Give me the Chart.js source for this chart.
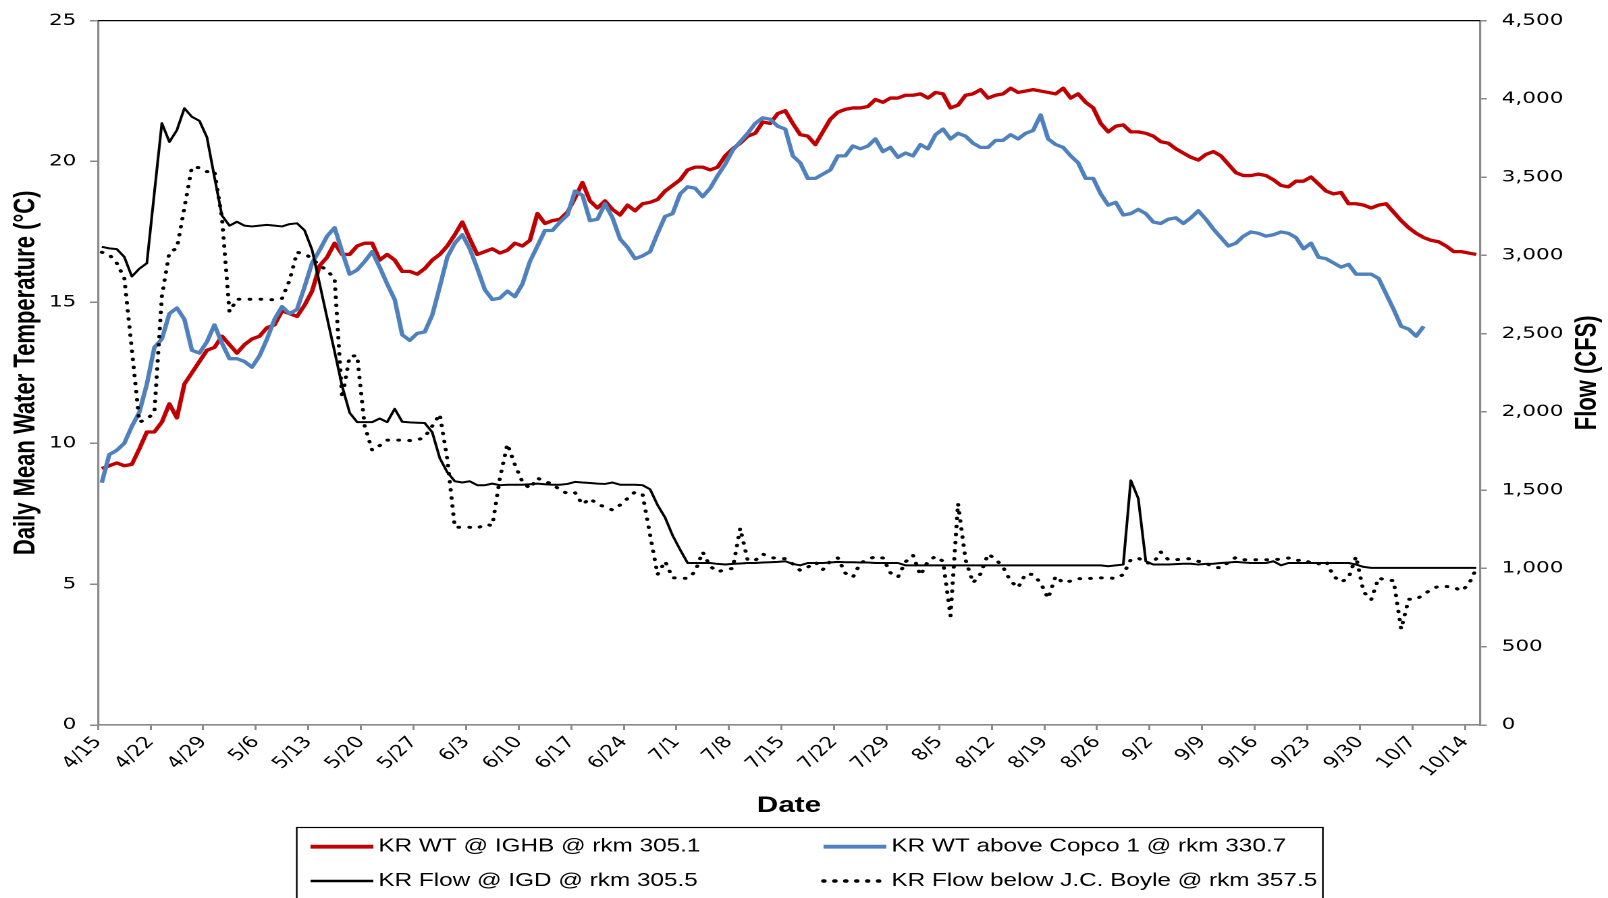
<!DOCTYPE html>
<html>
<head>
<meta charset="utf-8">
<title>Klamath River water temperature and flow</title>
<script src="https://cdn.jsdelivr.net/npm/chart.js@4.4.1/dist/chart.umd.min.js"></script>
<style>
  html, body { margin: 0; padding: 0; background: #fff; overflow: hidden; }
  /* the figure is laid out on a narrower canvas and widened horizontally */
  #stage { width: 1191px; height: 898px; transform: scaleX(1.35013); transform-origin: 0 0; }
</style>
</head>
<body>
<div id="stage"><canvas id="chart"></canvas></div>
<script>
// Weekly tick labels (one every 7 days, starting 4/15)
const tickLabels = ['4/15','4/22','4/29','5/6','5/13','5/20','5/27','6/3','6/10','6/17','6/24',
  '7/1','7/8','7/15','7/22','7/29','8/5','8/12','8/19','8/26','9/2','9/9','9/16','9/23',
  '9/30','10/7','10/14'];

// Daily mean water temperature (°C), KR WT @ IGHB @ rkm 305.1, 4/15 - 10/15
const tempIGHB = [
  9.1, 9.2, 9.3, 9.2, 9.25, 9.8, 10.4, 10.4, 10.75, 11.4,
  10.9, 12.1, 12.5, 12.9, 13.3, 13.4, 13.8, 13.5, 13.2, 13.5,
  13.7, 13.8, 14.1, 14.2, 14.7, 14.6, 14.5, 14.9, 15.4, 16.3,
  16.6, 17.1, 16.7, 16.7, 17.0, 17.1, 17.1, 16.5, 16.7, 16.5,
  16.1, 16.1, 16.0, 16.2, 16.5, 16.7, 17.0, 17.4, 17.85, 17.25,
  16.7, 16.8, 16.9, 16.75, 16.85, 17.1, 17.0, 17.2, 18.15, 17.8,
  17.9, 17.95, 18.2, 18.7, 19.25, 18.6, 18.35, 18.6, 18.3, 18.1,
  18.45, 18.25, 18.5, 18.55, 18.65, 18.95, 19.15, 19.35, 19.7, 19.8,
  19.8, 19.7, 19.8, 20.2, 20.45, 20.65, 20.9, 21.0, 21.4, 21.35,
  21.7, 21.8, 21.35, 20.95, 20.9, 20.6, 21.05, 21.5, 21.75, 21.85,
  21.9, 21.9, 21.95, 22.2, 22.1, 22.25, 22.25, 22.35, 22.35, 22.4,
  22.25, 22.45, 22.4, 21.9, 22.0, 22.35, 22.4, 22.55, 22.25, 22.35,
  22.4, 22.6, 22.45, 22.5, 22.55, 22.5, 22.45, 22.4, 22.6, 22.25,
  22.4, 22.1, 21.9, 21.35, 21.05, 21.25, 21.3, 21.05, 21.05, 21.0,
  20.9, 20.7, 20.65, 20.45, 20.3, 20.15, 20.05, 20.25, 20.35, 20.2,
  19.9, 19.6, 19.5, 19.5, 19.55, 19.5, 19.35, 19.15, 19.1, 19.3,
  19.3, 19.45, 19.2, 18.95, 18.85, 18.9, 18.5, 18.5, 18.45, 18.35,
  18.45, 18.5, 18.2, 17.9, 17.65, 17.45, 17.3, 17.2, 17.15, 17.0,
  16.8, 16.8, 16.75, 16.7
];

// Daily mean water temperature (°C), KR WT above Copco 1 @ rkm 330.7, 4/15 - 10/8
const tempCopco = [
  8.6, 9.6, 9.75, 10.0, 10.6, 11.1, 12.1, 13.4, 13.7, 14.6,
  14.8, 14.4, 13.3, 13.2, 13.6, 14.2, 13.55, 13.0, 13.0, 12.9,
  12.7, 13.1, 13.7, 14.4, 14.85, 14.6, 14.75, 15.55, 16.4, 16.85,
  17.35, 17.65, 16.8, 16.0, 16.15, 16.45, 16.8, 16.25, 15.65, 15.1,
  13.85, 13.65, 13.9, 13.95, 14.55, 15.55, 16.6, 17.1, 17.4, 16.9,
  16.2, 15.45, 15.1, 15.15, 15.4, 15.2, 15.65, 16.45, 17.0, 17.55,
  17.55, 17.85, 18.1, 18.95, 18.8, 17.9, 17.95, 18.5, 18.0, 17.25,
  16.95, 16.55, 16.65, 16.8, 17.45, 18.05, 18.15, 18.85, 19.1, 19.05,
  18.75, 19.05, 19.5, 19.9, 20.4, 20.7, 21.0, 21.35, 21.55, 21.5,
  21.25, 21.15, 20.2, 19.95, 19.4, 19.4, 19.55, 19.7, 20.2, 20.2,
  20.55, 20.45, 20.55, 20.8, 20.35, 20.5, 20.15, 20.3, 20.2, 20.6,
  20.45, 20.95, 21.15, 20.8, 21.0, 20.9, 20.65, 20.5, 20.5, 20.75,
  20.75, 20.95, 20.8, 21.0, 21.1, 21.65, 20.8, 20.6, 20.5, 20.2,
  19.95, 19.4, 19.4, 18.85, 18.45, 18.55, 18.1, 18.15, 18.3, 18.15,
  17.85, 17.8, 17.95, 18.0, 17.8, 18.0, 18.25, 17.95, 17.6, 17.3,
  17.0, 17.1, 17.35, 17.5, 17.45, 17.35, 17.4, 17.5, 17.45, 17.3,
  16.9, 17.1, 16.6, 16.55, 16.4, 16.25, 16.35, 16.0, 16.0, 16.0,
  15.85, 15.3, 14.75, 14.15, 14.05, 13.8, 14.15
];

// Daily flow (CFS), KR Flow @ IGD @ rkm 305.5, 4/15 - 10/15
const flowIGD = [
  3055, 3045, 3040, 2990, 2865, 2915, 2950, 3400, 3845, 3725,
  3800, 3940, 3885, 3860, 3755, 3500, 3255, 3190, 3215, 3190,
  3185, 3190, 3195, 3190, 3185, 3200, 3205, 3160, 3035, 2820,
  2600, 2385, 2165, 1995, 1935, 1935, 1935, 1958, 1935, 2020,
  1937, 1933, 1931, 1929, 1870, 1705, 1615, 1557, 1549, 1557,
  1532, 1532, 1542, 1532, 1535, 1535, 1535, 1538, 1542, 1538,
  1535, 1535, 1540, 1553, 1549, 1546, 1542, 1540, 1549, 1535,
  1535, 1535, 1532, 1506, 1405, 1325, 1211, 1120, 1035, 1035,
  1035, 1035, 1029, 1025, 1029, 1032, 1035, 1035, 1038, 1040,
  1042, 1046, 1029, 1020, 1035, 1035, 1035, 1038, 1042, 1040,
  1040, 1038, 1038, 1035, 1035, 1035, 1035, 1020, 1020, 1020,
  1020, 1020, 1020, 1020, 1020, 1020, 1020, 1020, 1020, 1020,
  1020, 1020, 1020, 1020, 1020, 1020, 1020, 1020, 1020, 1020,
  1020, 1020, 1020, 1020, 1014, 1020, 1025, 1563, 1447, 1046,
  1025, 1025, 1025, 1028, 1030, 1030, 1025, 1029, 1030, 1035,
  1038, 1042, 1038, 1035, 1035, 1035, 1046, 1020, 1035, 1035,
  1035, 1035, 1035, 1035, 1035, 1035, 1035, 1025, 1010, 1004,
  1004, 1004, 1004, 1004, 1004, 1004, 1004, 1004, 1004, 1004,
  1004, 1004, 1004, 1004
];

// Daily flow (CFS), KR Flow below J.C. Boyle @ rkm 357.5, 4/15 - 10/15
const flowBoyle = [
  3020, 3005, 2950, 2855, 2400, 1935, 1955, 1995, 2740, 3020,
  3045, 3305, 3565, 3560, 3535, 3540, 3240, 2640, 2720, 2720,
  2720, 2720, 2720, 2715, 2725, 2840, 3020, 3010, 2980, 2935,
  2905, 2850, 2090, 2355, 2360, 1910, 1755, 1785, 1820, 1820,
  1820, 1817, 1820, 1840, 1910, 1985, 1700, 1263, 1263, 1263,
  1257, 1282, 1274, 1575, 1795, 1663, 1553, 1511, 1578, 1553,
  1542, 1500, 1479, 1485, 1409, 1447, 1409, 1394, 1373, 1405,
  1447, 1489, 1473, 1215, 961, 1046, 940, 940, 936, 980,
  1105, 1014, 978, 993, 1000, 1257, 1052, 1052, 1092, 1071,
  1063, 1063, 1029, 987, 1008, 1040, 993, 1046, 1067, 970,
  944, 1035, 1056, 1077, 1067, 972, 944, 1042, 1084, 957,
  1046, 1077, 1046, 697, 1415, 1056, 908, 966, 1092, 1060,
  1008, 919, 877, 966, 961, 908, 809, 951, 908, 920,
  936, 930, 940, 940, 940, 936, 961, 1056, 1067, 1035,
  1035, 1105, 1056, 1056, 1060, 1063, 1046, 1035, 1008, 1004,
  1040, 1071, 1056, 1056, 1056, 1056, 1056, 1060, 1067, 1050,
  1056, 1035, 1029, 1046, 951, 913, 940, 1077, 850, 800,
  940, 923, 923, 613, 803, 803, 834, 866, 887, 885,
  881, 856, 898, 999
];

// each day sits in the middle of its one-day slot on the date axis
const toPoints = arr => arr.map((v, i) => ({ x: i + 0.5, y: v }));

const AXIS_GREY = '#8a8a8a';
const SANS = "'Liberation Sans', Arial, sans-serif";
const TICK_FONT = { family: "'DejaVu Sans', sans-serif", size: 16 };

// thin black frame line along the top of the plot area
const topFrame = {
  id: 'topFrame',
  afterDraw(chart) {
    const { ctx, chartArea: a } = chart;
    ctx.save();
    ctx.strokeStyle = '#000';
    ctx.lineWidth = 1.2;
    ctx.beginPath();
    ctx.moveTo(a.left, a.top);
    ctx.lineTo(a.right, a.top);
    ctx.stroke();
    ctx.restore();
  }
};

// secondary-axis title, read bottom-to-top like the primary one
const rightTitle = {
  id: 'rightTitle',
  afterDraw(chart, args, opts) {
    const { ctx, chartArea: a } = chart;
    ctx.save();
    ctx.translate(opts.x, (a.top + a.bottom) / 2);
    ctx.rotate(-Math.PI / 2);
    ctx.font = 'bold 22px ' + SANS;
    ctx.fillStyle = '#000';
    ctx.textAlign = 'center';
    ctx.textBaseline = 'middle';
    ctx.fillText(chart.options.scales.y2.title.text, 0, 0);
    ctx.restore();
  }
};

// boxed two-column legend below the date axis
const boxLegend = {
  id: 'boxLegend',
  afterDraw(chart, args, opts) {
    const { ctx } = chart;
    ctx.save();
    ctx.strokeStyle = '#000';
    ctx.lineWidth = 1.2;
    ctx.strokeRect(opts.left, opts.top, opts.width, opts.height);
    chart.data.datasets.forEach((ds, i) => {
      const x0 = opts.cols[i % 2];
      const y = opts.rows[Math.floor(i / 2)];
      ctx.beginPath();
      ctx.strokeStyle = ds.borderColor;
      ctx.lineWidth = ds.borderWidth + 0.6;
      ctx.setLineDash(ds.borderDash || []);
      ctx.lineCap = ds.borderCapStyle || 'butt';
      ctx.moveTo(x0, y);
      ctx.lineTo(x0 + opts.sample, y);
      ctx.stroke();
      ctx.setLineDash([]);
      ctx.fillStyle = '#000';
      ctx.font = opts.font;
      ctx.textAlign = 'left';
      ctx.textBaseline = 'middle';
      ctx.fillText(ds.label, x0 + opts.sample + opts.gap, y);
    });
    ctx.restore();
  }
};

new Chart(document.getElementById('chart'), {
  type: 'line',
  data: {
    datasets: [
      { label: 'KR WT @ IGHB @ rkm 305.1', data: toPoints(tempIGHB), yAxisID: 'y',
        borderColor: '#C00000', borderWidth: 3.3, order: 4 },
      { label: 'KR WT above Copco 1 @ rkm 330.7', data: toPoints(tempCopco), yAxisID: 'y',
        borderColor: '#4F81BD', borderWidth: 3.3, order: 3 },
      { label: 'KR Flow @ IGD @ rkm 305.5', data: toPoints(flowIGD), yAxisID: 'y2',
        borderColor: '#000000', borderWidth: 2, order: 2 },
      { label: 'KR Flow below J.C. Boyle @ rkm 357.5', data: toPoints(flowBoyle), yAxisID: 'y2',
        borderColor: '#000000', borderWidth: 3, borderDash: [0.5, 7.6], borderCapStyle: 'round', order: 1 }
    ]
  },
  options: {
    responsive: true,
    maintainAspectRatio: false,
    animation: false,
    devicePixelRatio: 2,
    layout: { padding: { top: 15, left: 0, right: 0, bottom: 0 } },
    elements: { point: { radius: 0 }, line: { tension: 0, fill: false, borderJoinStyle: 'round' } },
    font: { family: SANS },
    plugins: {
      legend: { display: false },
      tooltip: { enabled: false },
      rightTitle: { x: 1176 },
      boxLegend: {
        left: 219.8, top: 827.5, width: 760, height: 90,
        cols: [230, 610], rows: [846.7, 881],
        sample: 46.5, gap: 3.7,
        font: '18px ' + SANS
      }
    },
    scales: {
      x: {
        type: 'linear',
        min: 0,
        max: 184,
        afterBuildTicks: s => { s.ticks = tickLabels.map((_, k) => ({ value: k * 7 })); },
        afterFit: s => { s.height = 173; },
        ticks: {
          autoSkip: false, minRotation: 50, maxRotation: 50, padding: 3,
          color: '#000', font: TICK_FONT,
          callback: (v, idx) => tickLabels[idx]
        },
        grid: { display: true, drawOnChartArea: false, drawTicks: true, tickLength: 5,
                color: AXIS_GREY, lineWidth: 1.5 },
        border: { display: true, color: AXIS_GREY, width: 1.6 },
        title: { display: true, text: 'Date', color: '#000',
                 font: { family: SANS, size: 22, weight: 'bold' },
                 padding: { top: 0, bottom: 79 } }
      },
      y: {
        position: 'left',
        min: 0, max: 25,
        afterFit: s => { s.width = 72.6; },
        ticks: { stepSize: 5, padding: 10, color: '#000', font: TICK_FONT },
        grid: { display: true, drawOnChartArea: false, drawTicks: true, tickLength: 6,
                color: AXIS_GREY, lineWidth: 1.5 },
        border: { display: true, color: AXIS_GREY, width: 1.6 },
        title: { display: true, text: 'Daily Mean Water Temperature (°C)', color: '#000',
                 font: { family: SANS, size: 22, weight: 'bold' },
                 padding: { top: 6, bottom: 0 } }
      },
      y2: {
        position: 'right',
        min: 0, max: 4500,
        afterFit: s => { s.width = 94.8; },
        ticks: { stepSize: 500, padding: 11, color: '#000', font: TICK_FONT },
        grid: { display: true, drawOnChartArea: false, drawTicks: true, tickLength: 5,
                color: AXIS_GREY, lineWidth: 1.5 },
        border: { display: true, color: AXIS_GREY, width: 1.6 },
        title: { display: false, text: 'Flow (CFS)' }
      }
    }
  },
  plugins: [topFrame, rightTitle, boxLegend]
});
</script>
</body>
</html>
